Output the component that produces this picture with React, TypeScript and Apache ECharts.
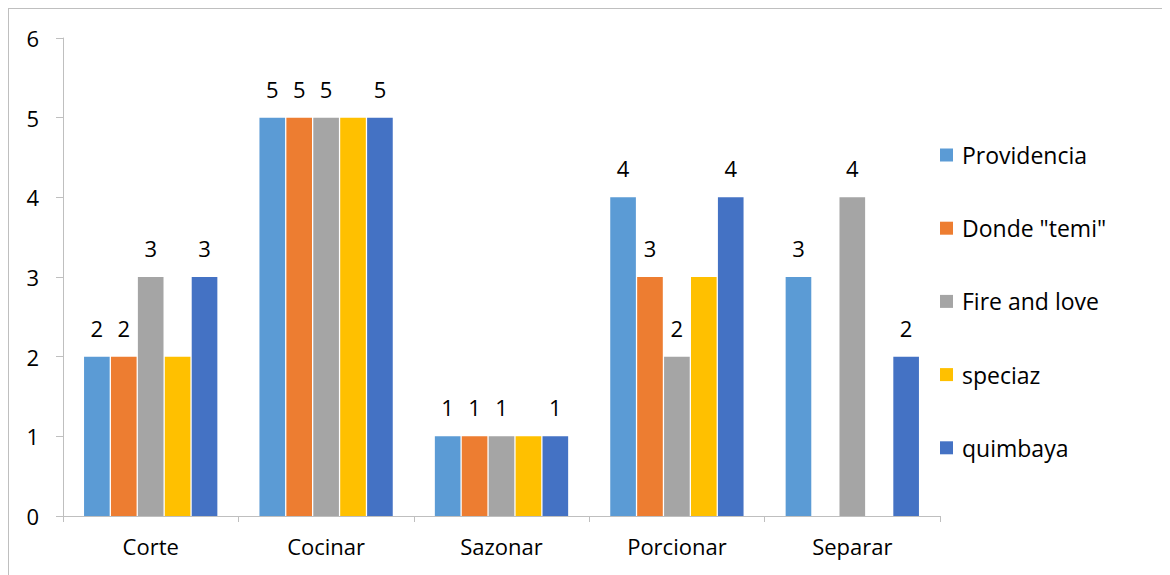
import React, { useEffect, useRef } from "react";
import * as echarts from "echarts";

const categories = ["Corte", "Cocinar", "Sazonar", "Porcionar", "Separar"];
const seriesNames = ["Providencia", "Donde \"temi\"", "Fire and love", "speciaz", "quimbaya"];
const providencia = [2, 5, 1, 4, 3];
const dondeTemi = [2, 5, 1, 3, 0];
const fireAndLove = [3, 5, 1, 2, 4];
const speciaz = [2, 5, 1, 3, 0];
const quimbaya = [3, 5, 1, 4, 2];
const showLabels = [true, true, true, false, true];
const yTicks = [0, 1, 2, 3, 4, 5, 6];

const colors = ["#5B9BD5", "#ED7D31", "#A5A5A5", "#FFC000", "#4472C4"];
const FONT = "Open Sans";

export default function App() {
  const ref = useRef<HTMLDivElement>(null);
  useEffect(() => {
    if (!ref.current) return;
    const chart = echarts.init(ref.current, undefined, { renderer: "svg" });
    const allData = [providencia, dondeTemi, fireAndLove, speciaz, quimbaya];
    chart.setOption({
      animation: false,
      textStyle: { fontFamily: FONT },
      grid: { left: 54, right: 239, top: 29, bottom: 68 },
      legend: {
        orient: "vertical",
        left: 926,
        top: 129.5,
        itemWidth: 13,
        itemHeight: 13,
        itemGap: 50.2,
        icon: "rect",
        textStyle: { fontSize: 23, color: "#000", fontFamily: FONT, padding: [0, 0, 0, 4] },
        data: seriesNames,
      },
      xAxis: {
        type: "category",
        data: categories,
        axisLine: { lineStyle: { color: "#BFBFBF", width: 1 } },
        axisTick: { show: true, length: 6, lineStyle: { color: "#BFBFBF" } },
        axisLabel: { fontSize: 22, color: "#000", margin: 19, fontFamily: FONT },
      },
      yAxis: {
        type: "value",
        min: yTicks[0],
        max: yTicks[yTicks.length - 1],
        interval: 1,
        splitLine: { show: false },
        axisLine: { show: true, lineStyle: { color: "#BFBFBF", width: 1 } },
        axisTick: { show: true, length: 7, lineStyle: { color: "#BFBFBF" } },
        axisLabel: { fontSize: 22, color: "#000", margin: 24, fontFamily: FONT },
      },
      series: seriesNames.map((name, i) => ({
        name,
        type: "bar",
        data: allData[i],
        barCategoryGap: "24%",
        barGap: "5%",
        itemStyle: { color: colors[i] },
        label: {
          show: showLabels[i],
          position: "top",
          distance: 18,
          fontSize: 22,
          color: "#000",
          fontFamily: FONT,
          formatter: (p: any) => (p.value === 0 ? "" : String(p.value)),
        },
      })),
    });
    return () => chart.dispose();
  }, []);
  return (
    <div style={{ width: 1170, height: 575, border: "1px solid #BFBFBF", boxSizing: "content-box" }}>
      <div ref={ref} style={{ width: 1170, height: 575 }} />
    </div>
  );
}
